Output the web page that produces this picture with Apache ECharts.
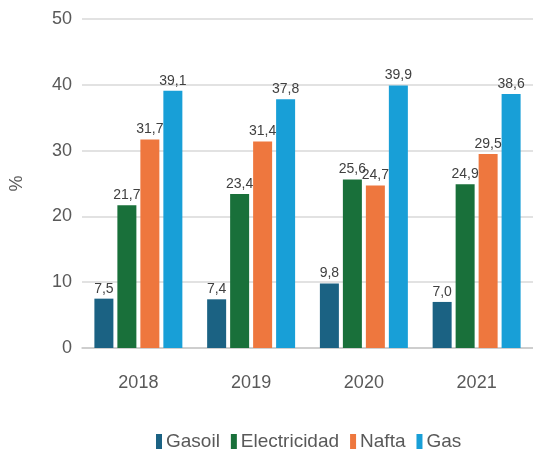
<!DOCTYPE html>
<html><head><meta charset="utf-8">
<script src="https://cdn.jsdelivr.net/npm/echarts@6/dist/echarts.min.js"></script>
<style>html,body{margin:0;padding:0;background:#fff}#c{width:533px;height:449px}</style>
</head><body><div id="c"></div>
<script>
const categories = ['2018','2019','2020','2021'];
const gasoil = [7.5, 7.4, 9.8, 7.0];
const electricidad = [21.7, 23.4, 25.6, 24.9];
const nafta = [31.7, 31.4, 24.7, 29.5];
const gas = [39.1, 37.8, 39.9, 38.6];
const seriesNames = ['Gasoil','Electricidad','Nafta','Gas'];
const colors = ['#1b6283','#19703a','#ee773e','#189fd7'];

const chart = echarts.init(document.getElementById('c'), null, {renderer:'canvas'});
const lbl = {
  show: true, position: 'top', distance: 3,
  fontFamily: '"Liberation Sans", Arial, sans-serif',
  fontSize: 14, color: '#404040',
  formatter: p => p.value.toFixed(1).replace('.', ',')
};
const mk = (name, data, i) => ({
  name, type: 'bar', data, barWidth: 19, barGap: '21%',
  itemStyle: {color: colors[i]}, label: lbl
});
chart.setOption({
  animation: false,
  color: colors,
  grid: {left: 80, top: 19, width: 457, height: 329, containLabel: false},
  legend: {
    data: seriesNames, left: 151, top: 427, itemWidth: 6, itemHeight: 15, itemGap: 11,
    icon: 'rect',
    textStyle: {fontFamily: '"Liberation Sans", Arial, sans-serif', fontSize: 19, color: '#595959', padding: [0,0,0,-1]}
  },
  xAxis: {
    type: 'category', data: categories,
    axisLine: {show: true, lineStyle: {color: '#c8c8c8', width: 1.5}},
    axisTick: {show: false},
    axisLabel: {fontFamily: '"Liberation Sans", Arial, sans-serif', fontSize: 18, color: '#595959', margin: 26}
  },
  yAxis: {
    type: 'value', min: 0, max: 50, interval: 10,
    name: '%', nameLocation: 'middle', nameGap: 56, nameRotate: 90,
    nameTextStyle: {fontFamily: '"Liberation Sans", Arial, sans-serif', fontSize: 18, color: '#595959'},
    axisLine: {show: false}, axisTick: {show: false},
    splitLine: {lineStyle: {color: '#d9d9d9', width: 1.5}},
    axisLabel: {fontFamily: '"Liberation Sans", Arial, sans-serif', fontSize: 18, color: '#595959', margin: 10}
  },
  series: [mk('Gasoil', gasoil, 0), mk('Electricidad', electricidad, 1), mk('Nafta', nafta, 2), mk('Gas', gas, 3)]
});
</script></body></html>
